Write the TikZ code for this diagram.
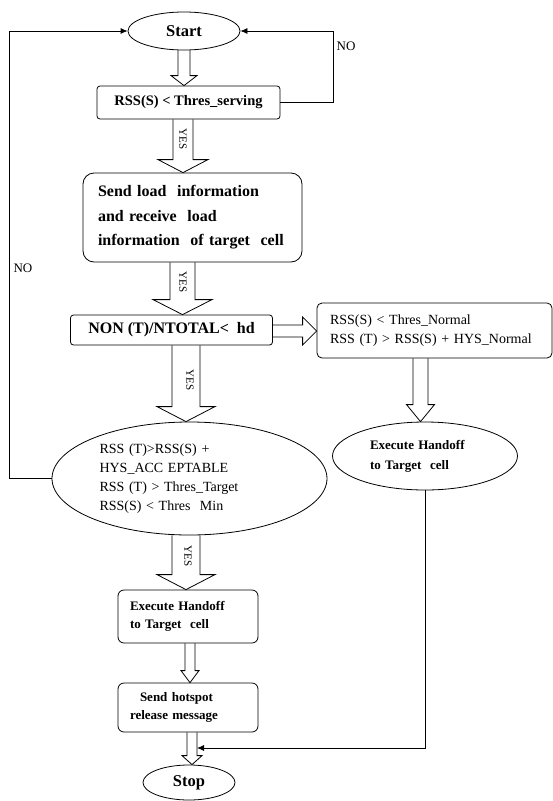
\documentclass[tikz,border=0pt]{standalone}
\usepackage{fontspec}
\setmainfont{Liberation Serif}
\usepackage{tikz}
\usetikzlibrary{shapes.geometric}
\usetikzlibrary{calc}
\usetikzlibrary{arrows.meta}

% hollow block arrow: source, target, x, shaft half width, head half width, head length
\newcommand{\fatdown}[6]{%
  \draw[fatarrow] let \p1=(#1.south), \p2=(#2.north) in
    (#3pt-#4pt,\y1) -- (#3pt-#4pt,\y2+#6pt) -- (#3pt-#5pt,\y2+#6pt) -- (#3pt,\y2)
    -- (#3pt+#5pt,\y2+#6pt) -- (#3pt+#4pt,\y2+#6pt) -- (#3pt+#4pt,\y1);}

\begin{document}
\begin{tikzpicture}[x=1pt,y=-1pt,
    line/.style={line width=0.8pt},
    box/.style={draw, line width=0.8pt, rounded corners=4pt},
    oval/.style={draw, ellipse, line width=0.8pt, inner sep=0pt},
    fatarrow/.style={line width=0.8pt, line join=miter},
    yeslbl/.style={rotate=-90, inner sep=0pt, font=\fontsize{11}{12}\selectfont},
    nolbl/.style={inner sep=0pt, font=\fontsize{13}{14}\selectfont}
    ]
    \useasboundingbox (0,0) rectangle (553,801);

    \node[oval, minimum width=112pt, minimum height=38pt,
      font=\bfseries\fontsize{16.5}{18}\selectfont] (start) at (184,31) {Start};

    \node[box, rounded corners=3pt, minimum width=183pt, minimum height=33pt, inner sep=0pt,
      font=\bfseries\fontsize{14.5}{16}\selectfont] (serv) at (188.5,102.5) {RSS(S) < Thres\_serving};

    \node[box, rounded corners=11pt, text width=189pt, inner xsep=15pt, minimum height=89pt, align=left,
      font=\bfseries\fontsize{16}{24.5}\selectfont] (load) at (192.5,217.5)
      {Send load~ information\\and receive~ load\\information~ of target~ cell};

    \node[box, rounded corners=3pt, minimum width=202pt, minimum height=30pt, inner sep=0pt,
      font=\bfseries\fontsize{16}{18}\selectfont] (ratio) at (171.5,330) {NON (T)/NTOTAL<~ hd};

    \node[box, rounded corners=5pt, text width=209pt, inner xsep=13pt, minimum height=55pt, align=left,
      font=\fontsize{14}{19}\selectfont] (normal) at (434.5,330.5)
      {RSS(S) < Thres\_Normal\\RSS (T) > RSS(S) + HYS\_Normal};

    \node[oval, minimum width=185pt, minimum height=68pt, text width=110pt, align=left,
      font=\bfseries\fontsize{13}{20}\selectfont] (exec2) at (425,456)
      {Execute Handoff\\to Target~ cell};

    \node[oval, minimum width=275pt, minimum height=113pt, text width=180pt, align=left,
      font=\fontsize{14}{19}\selectfont] (cond) at (189.5,478.5)
      {RSS (T)>RSS(S) +\\HYS\_ACC EPTABLE\\RSS (T) > Thres\_Target\\RSS(S) < Thres~ Min};

    \node[box, rounded corners=6pt, text width=116pt, inner xsep=12pt, minimum height=53pt, align=left,
      font=\bfseries\fontsize{13}{18}\selectfont] (exec1) at (188,616.5)
      {Execute Handoff\\to Target~ cell};

    \node[box, rounded corners=6pt, text width=116pt, inner xsep=12pt, minimum height=49pt, align=left,
      font=\bfseries\fontsize{13}{18}\selectfont] (release) at (188,707.5)
      {\hspace*{10pt}Send hotspot\\release message};

    \node[oval, minimum width=92pt, minimum height=35pt,
      font=\bfseries\fontsize{16.5}{18}\selectfont] (stop) at (189,782.5) {Stop};

    \fatdown{start}{serv}{184}{6}{13}{10}
    \fatdown{serv}{load}{183}{10}{25}{13}
    \fatdown{load}{ratio}{182.5}{12.5}{29.5}{15}
    \fatdown{ratio}{cond}{186}{14}{29}{15}
    \fatdown{cond}{exec1}{186}{14}{29}{15}
    \fatdown{exec1}{release}{190}{5}{9}{12}
    \fatdown{release}{stop}{192}{5}{10}{9}
    \fatdown{normal}{exec2}{420.5}{7.5}{14}{17}

    \draw[fatarrow] let \p1=(ratio.east), \p2=(normal.west) in
      (\x1,-325pt) -- (\x2-14pt,-325pt) -- (\x2-14pt,-317pt) -- (\x2,-331pt)
      -- (\x2-14pt,-345pt) -- (\x2-14pt,-337pt) -- (\x1,-337pt);

    \node[yeslbl] (yes1) at (183,139) {YES};
    \node[yeslbl] (yes2) at (183,282) {YES};
    \node[yeslbl] (yes3) at (190,380) {YES};
    \node[yeslbl] (yes4) at (188,556) {YES};

    \draw[line, -{Latex[length=7pt,width=6pt]}] (serv.east) -- ++(53,0) |- (start.east);
    \node[nolbl] (no1) at (346,46) {NO};

    \draw[line, -{Latex[length=7pt,width=6pt]}] (cond.west) -- ++(-42,0) |- (start.west);
    \node[nolbl] (no2) at (23,268) {NO};

    \coordinate (join) at (197,748);
    \draw[line, -{Latex[length=7pt,width=6pt]}] (exec2.south) |- (join);

\end{tikzpicture}
\end{document}
